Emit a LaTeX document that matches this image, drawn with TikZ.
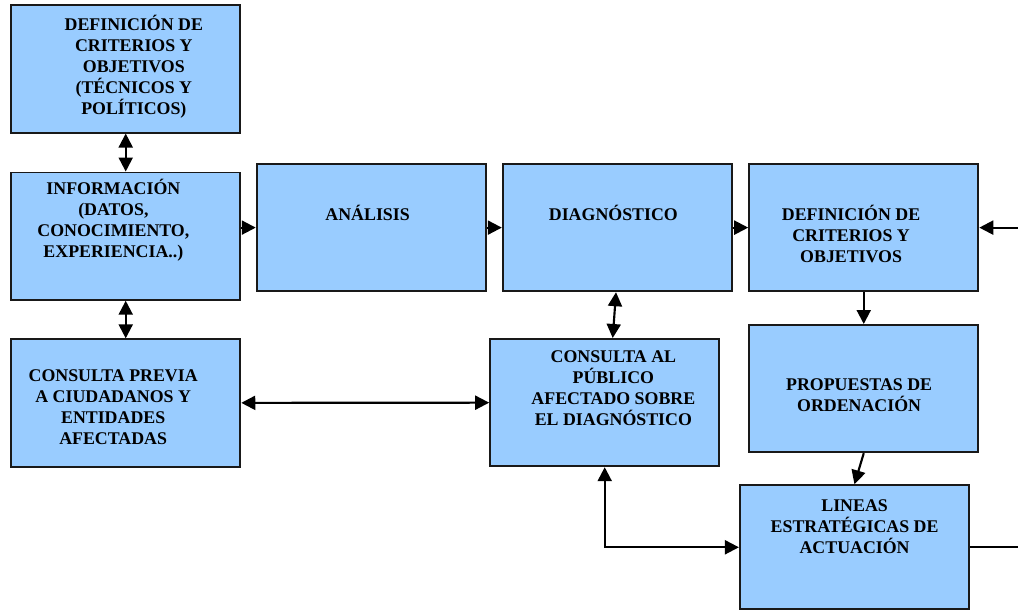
\documentclass[tikz,border=0pt]{standalone}
\usepackage{fontspec}
\setmainfont{Liberation Serif}
\usetikzlibrary{arrows.meta}
\definecolor{cajaazul}{HTML}{99CCFF}
\begin{document}
\begin{tikzpicture}[x=0.75pt,y=-0.75pt,
  caja/.style={rectangle, draw=black!90, line width=1.4pt, fill=cajaazul, minimum width=172.1pt, minimum height=95.6pt, inner sep=0pt},
  texto/.style={align=center, inner sep=0pt, font=\bfseries\fontsize{13.4}{15.75}\selectfont},
  linea/.style={line width=1.6pt},
  flecha/.style={linea, -{Triangle[length=10.5pt,width=10.5pt]}},
  doble/.style={linea, {Triangle[length=10.5pt,width=10.5pt]}-{Triangle[length=10.5pt,width=10.5pt]}}]
\fill[white] (0,0) rectangle (1019,611);
\node[caja] (critec) at (125.85,69) {};
\node[caja] (info) at (125.85,236.35) {};
\node[caja] (consprev) at (125.85,403.35) {};
\node[caja] (anal) at (371.7,227.85) {};
\node[caja] (diag) at (618,227.85) {};
\node[caja] (crit) at (864.65,227.85) {};
\node[caja] (conspub) at (605.35,403) {};
\node[caja] (prop) at (864.65,389) {};
\node[caja, minimum height=93.2pt] (lineas) at (855.35,547.85) {};
\node[texto] (critec-t) at (134,66.6) {DEFINICIÓN DE\\CRITERIOS Y\\OBJETIVOS\\(TÉCNICOS Y\\POLÍTICOS)};
\node[texto] (info-t) at (113.5,220.3) {INFORMACIÓN\\(DATOS,\\CONOCIMIENTO,\\EXPERIENCIA..)};
\node[texto] (consprev-t) at (113.3,408) {CONSULTA PREVIA\\A CIUDADANOS Y\\ENTIDADES\\AFECTADAS};
\node[texto] (anal-t) at (368,212.7) {ANÁLISIS};
\node[texto] (diag-t) at (614,213.6) {DIAGNÓSTICO};
\node[texto] (crit-t) at (852,234.6) {DEFINICIÓN DE\\CRITERIOS Y\\OBJETIVOS};
\node[texto] (conspub-t) at (614,388.3) {CONSULTA AL\\PÚBLICO\\AFECTADO SOBRE\\EL DIAGNÓSTICO};
\node[texto] (prop-t) at (860,395.5) {PROPUESTAS DE\\ORDENACIÓN};
\node[texto] (lineas-t) at (855.5,527) {LINEAS\\ESTRATÉGICAS DE\\ACTUACIÓN};
\coordinate (entrada) at (1019,227.85);
\coordinate (salida) at (1019,547.85);
\draw[doble] (critec) -- (info);
\draw[doble] (info) -- (consprev);
\draw[flecha] (info.east |- anal.west) -- (anal.west);
\draw[flecha] (anal) -- (diag);
\draw[flecha] (diag) -- (crit);
\draw[flecha] (entrada) -- (crit.east);
\draw[doble] (consprev) -- (conspub);
\draw[doble] ([xshift=-1pt]diag.south) -- ([xshift=6pt]conspub.north);
\draw[flecha] (crit) -- (prop);
\draw[flecha] (prop.south) -- (lineas.north);
\draw[doble] (conspub.south) |- (lineas.west);
\draw[linea] (lineas.east) -- (salida);
\end{tikzpicture}
\end{document}
